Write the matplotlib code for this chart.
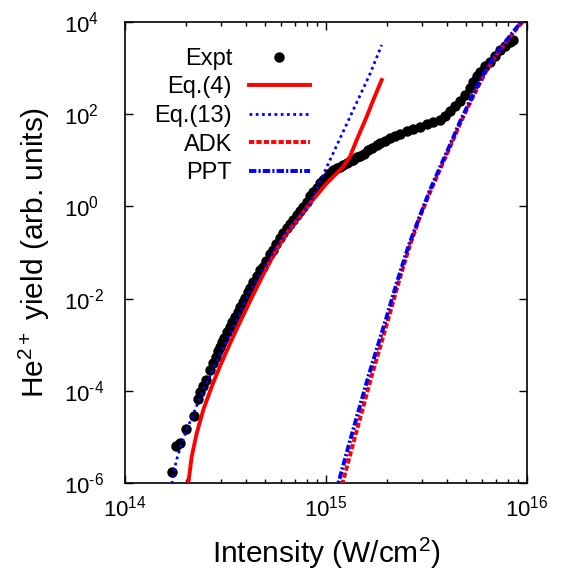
import matplotlib
matplotlib.use('Agg')
import matplotlib.pyplot as plt
import numpy as np
from matplotlib.ticker import LogLocator, FixedLocator, NullLocator, FuncFormatter

plt.rcParams['font.family'] = ['Liberation Sans', 'DejaVu Sans']
plt.rcParams['mathtext.fontset'] = 'custom'
plt.rcParams['mathtext.rm'] = 'Liberation Sans'
plt.rcParams['mathtext.it'] = 'Liberation Sans:italic'
plt.rcParams['mathtext.bf'] = 'Liberation Sans:bold'

# intensities in units of 1e14 W/cm^2, yields in arb. units
expt_I = [1.707, 1.794, 1.877, 2.000, 2.204, 2.295, 2.361, 2.444, 2.529, 2.648,
          2.740, 2.820, 2.902, 2.969, 3.038, 3.108, 3.217, 3.330, 3.426, 3.526,
          3.629, 3.734, 3.843, 3.954, 4.093, 4.188, 4.334, 4.522, 4.696, 4.877,
          5.058, 5.265, 5.468, 5.640, 5.904, 6.132, 6.361, 6.621, 6.876, 7.149,
          7.424, 7.711, 8.017, 8.327, 8.647, 8.990, 9.336, 9.696, 10.08, 10.47,
          10.87, 11.30, 11.74, 12.19, 12.68, 13.16, 13.67, 14.21, 14.76, 15.45,
          16.23, 16.94, 17.87, 18.56, 19.66, 20.82, 22.04, 23.35, 25.20, 27.09,
          29.36, 31.80, 34.07, 36.92, 39.09, 41.40, 43.84, 46.42, 49.15, 52.04,
          54.05, 56.20, 58.39, 61.82, 65.45, 69.31, 73.38, 77.70, 82.27, 85.44]
expt_Y = [1.734e-6, 6.44e-6, 7.38e-6, 1.449e-5, 2.88e-5, 6.64e-5, 9.42e-5, 1.271e-4, 1.714e-4, 2.825e-4,
          4.01e-4, 5.41e-4, 7.30e-4, 9.06e-4, 1.145e-3, 1.397e-3, 1.884e-3, 2.455e-3, 3.18e-3, 4.05e-3,
          5.25e-3, 6.67e-3, 8.43e-3, 1.030e-2, 1.390e-2, 1.698e-2, 2.29e-2, 3.09e-2, 4.17e-2, 4.92e-2,
          6.55e-2, 9.27e-2, 0.1133, 0.1528, 0.2014, 0.2606, 0.340, 0.415, 0.507, 0.650,
          0.794, 0.986, 1.276, 1.640, 2.084, 2.57, 3.14, 3.74, 4.24, 5.18,
          6.16, 6.64, 7.16, 7.91, 8.74, 9.66, 10.40, 11.51, 12.39, 14.03,
          16.73, 18.95, 21.48, 23.73, 26.87, 29.99, 33.65, 37.2, 42.2, 47.8,
          53.6, 59.8, 67.7, 76.7, 91.4, 114.5, 150.7, 193.2, 260.6, 364.6,
          499, 690, 822, 1111, 1377, 1829, 2471, 3015, 3681, 4070]

eq4_I = [2.045, 2.065, 2.147, 2.274, 2.452, 2.699, 2.969, 3.330, 3.734, 4.334, 4.972,
         5.684, 6.493, 7.424, 8.327, 10.08, 12.19, 13.16, 14.21, 15.94, 17.19, 18.93]
eq4_Y = [4.3e-7, 9.85e-7, 3.72e-6, 1.197e-5, 3.84e-5, 1.227e-4, 3.42e-4, 1.062e-3, 3.10e-3,
         1.197e-2, 3.97e-2, 0.119, 0.292, 0.598, 1.167, 3.17, 7.26, 11.97, 27.5, 88.3, 203, 552]

eq13_I = [1.694, 1.719, 1.794, 1.899, 2.065, 2.316, 2.648, 3.084, 3.595, 4.188, 4.972, 5.684,
          6.493, 7.424, 8.327, 9.336, 10.47, 11.74, 13.16, 14.76, 16.55, 18.93]
eq13_Y = [7.05e-7, 1.067e-6, 2.86e-6, 6.67e-6, 1.722e-5, 5.71e-5, 2.09e-4, 8.48e-4, 3.43e-3, 1.462e-2,
          4.92e-2, 0.1336, 0.3076, 0.598, 1.167, 3.43, 10.16, 29.7, 86.9, 254.5, 745, 3170]

adk_I = [11.74, 12.08, 13.67, 16.84, 20.58, 22.95, 26.03, 29.52, 33.29, 38.08,
         42.70, 46.96, 51.64, 56.85, 63.76, 71.50, 80.17, 89.91, 96.96]
ppt_I = [11.20, 11.51, 13.06, 16.23, 20.05, 22.48, 25.67, 29.36, 32.91, 37.64,
         42.21, 46.42, 51.05, 56.20, 63.03, 70.68, 79.25, 88.88, 95.85]
sdi_Y = [6.38e-7, 9.86e-7, 7.26e-6, 2.02e-4, 4.05e-3, 2.18e-2, 0.1336, 0.635, 2.27, 8.53,
         26.2, 68.7, 162.3, 379, 990, 2094, 4070, 7600, 1.105e4]

unit = 1e14

fig = plt.figure(figsize=(5.63, 5.71), dpi=100)
ax = fig.add_axes([125/563, 1 - 483/571, 402/563, 461/571])

ax.plot(np.array(expt_I) * unit, expt_Y, 'o', color='black', ms=6.5, label='Expt', zorder=2)
ax.plot(np.array(eq4_I) * unit, eq4_Y, '-', color='#ff0000', lw=2.8, label='Eq.(4)', zorder=3)
ax.plot(np.array(eq13_I) * unit, eq13_Y, color='#0000ff', lw=2.0,
        linestyle=(0, (1.0, 1.25)), dash_capstyle='butt', label='Eq.(13)', zorder=4)
ax.plot(np.array(adk_I) * unit, sdi_Y, color='#ff0000', lw=2.8,
        linestyle=(0, (1.35, 0.55)), dash_capstyle='butt', label='ADK', zorder=5)
ax.plot(np.array(ppt_I) * unit, sdi_Y, color='#0000ff', lw=2.8,
        linestyle=(0, (1.9, 0.55, 0.55, 0.55)), dash_capstyle='butt', label='PPT', zorder=6)

ax.set_xscale('log')
ax.set_yscale('log')
ax.set_xlim(1e14, 1e16)
ax.set_ylim(1e-6, 1e4)


def decade(v, pos):
    e = int(round(np.log10(v)))
    if e < 0:
        return r'$10^{\text{-}%d}$' % -e
    return r'$10^{%d}$' % e


ax.xaxis.set_major_locator(LogLocator(base=10, numticks=10))
ax.xaxis.set_minor_locator(LogLocator(base=10, subs=range(2, 10), numticks=30))
ax.yaxis.set_major_locator(FixedLocator([1e-6, 1e-4, 1e-2, 1, 1e2, 1e4]))
ax.yaxis.set_minor_locator(NullLocator())
ax.xaxis.set_major_formatter(FuncFormatter(decade))
ax.yaxis.set_major_formatter(FuncFormatter(decade))
ax.tick_params(which='both', direction='in', top=True, right=True, width=1.0)
ax.tick_params(which='major', length=5.8, labelsize=16)
ax.tick_params(which='minor', length=2.9)
ax.tick_params(axis='x', pad=9)
ax.tick_params(axis='y', pad=44)
for lbl in ax.get_yticklabels():
    lbl.set_horizontalalignment('left')
for s in ax.spines.values():
    s.set_linewidth(1.2)

ax.set_xlabel(r'Intensity (W/cm$^{2}$)', fontsize=21.5)
ax.set_ylabel(r'He$^{2+}$ yield (arb. units)', fontsize=21.5)
ax.xaxis.set_label_coords(0.5, -0.115)
ax.yaxis.set_label_coords(-0.182, 0.5)

leg = ax.legend(loc='upper right', bbox_to_anchor=(0.46, 0.944), markerfirst=False,
                frameon=False, fontsize=17, handlelength=2.6, handletextpad=0.7,
                labelspacing=0.28, borderpad=0, borderaxespad=0, numpoints=1)

fig.savefig('out.png', dpi=100)
